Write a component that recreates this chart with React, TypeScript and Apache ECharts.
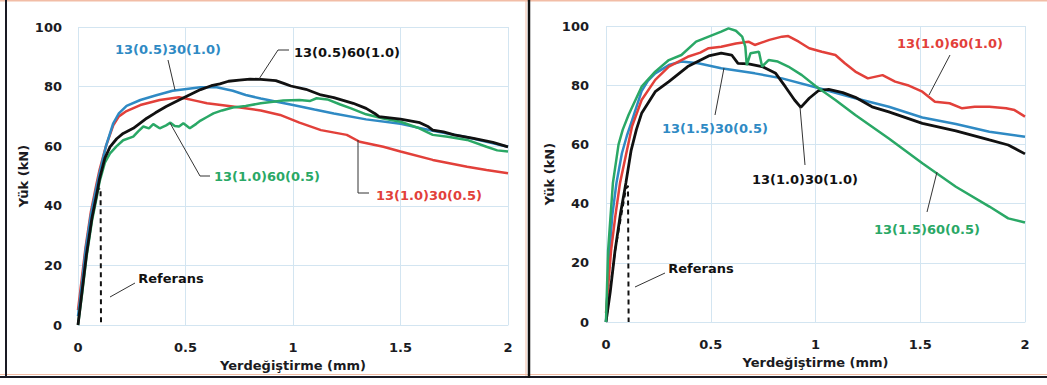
import React, { useEffect, useRef } from "react";
import * as echarts from "echarts";

// ---------- Data (x: Yerdeğiştirme mm, y: Yük kN) ----------
const xTicks = [0, 0.5, 1, 1.5, 2];
const yTicks = [0, 20, 40, 60, 80, 100];

const leftBlue: number[][] = [[0,3],[0.02,15],[0.035,25],[0.06,37],[0.085,46],[0.1,51],[0.13,60],[0.164,67.7],[0.19,71],[0.226,73.5],[0.29,75.5],[0.36,77],[0.44,78.6],[0.57,79.8],[0.645,79.8],[0.72,78.6],[0.78,77.2],[0.85,76],[0.93,74.8],[1.0,73.8],[1.1,72.3],[1.19,71],[1.34,69],[1.5,67.5],[1.65,65.2],[1.81,63],[1.9,61.5],[2.0,59.8]];
const leftRed: number[][] = [[0,5],[0.02,17],[0.035,26],[0.06,38],[0.085,47],[0.1,52],[0.13,60],[0.164,67],[0.19,70],[0.226,71.8],[0.29,73.8],[0.38,75.5],[0.47,76.4],[0.5,76],[0.55,75.2],[0.6,74.4],[0.72,73.3],[0.85,72],[0.94,70.5],[1.03,67.9],[1.13,65.4],[1.25,63.8],[1.31,61.5],[1.42,59.8],[1.5,58.2],[1.65,55.4],[1.81,53.1],[1.9,52],[2.0,50.9]];
const leftBlack: number[][] = [[0,0],[0.02,12],[0.04,24],[0.065,36],[0.09,45],[0.1,49],[0.125,56],[0.149,59.8],[0.18,62.5],[0.21,64.3],[0.257,66],[0.32,69.4],[0.36,71.2],[0.41,73.3],[0.47,75.5],[0.52,77.3],[0.57,79],[0.62,80.3],[0.66,80.9],[0.7,81.8],[0.75,82.2],[0.8,82.5],[0.85,82.4],[0.92,82],[0.96,81],[0.99,80.2],[1.06,79.1],[1.13,77.2],[1.19,76.3],[1.28,74.4],[1.34,72.7],[1.38,71],[1.4,69.9],[1.45,69.5],[1.5,69.1],[1.59,67.9],[1.63,66.5],[1.65,65.4],[1.7,64.8],[1.75,63.8],[1.84,62.6],[1.93,61.3],[2.0,59.8]];
const leftGreen: number[][] = [[0,0],[0.02,11],[0.04,23],[0.065,35],[0.09,44],[0.1,48],[0.125,54.5],[0.149,57.6],[0.18,60],[0.21,62],[0.257,63.2],[0.28,65],[0.304,66.6],[0.33,66],[0.35,67.4],[0.38,66],[0.41,67],[0.43,67.9],[0.45,66.8],[0.47,66.6],[0.49,67.7],[0.52,66],[0.55,67.5],[0.57,68.6],[0.6,69.8],[0.63,71],[0.67,72],[0.72,73],[0.78,73.5],[0.85,74.4],[0.955,75.3],[1.03,75.5],[1.08,75.2],[1.11,76.1],[1.16,75.7],[1.22,74],[1.27,72.7],[1.34,70.7],[1.42,69.3],[1.5,68.2],[1.58,66.2],[1.65,63.8],[1.72,63.2],[1.81,62.1],[1.9,59.8],[1.95,58.6],[2.0,58.2]];
const leftRef: number[][] = [[0,0],[0.035,24],[0.085,45],[0.105,46],[0.107,0]];

const rightBlue: number[][] = [[0,0],[0.015,22],[0.03,36],[0.05,47],[0.076,57],[0.1,63],[0.124,68],[0.17,78],[0.2,81.5],[0.235,84],[0.3,86.8],[0.36,88],[0.44,87.4],[0.55,85.7],[0.71,84],[0.84,82.3],[1.0,79.3],[1.19,75.6],[1.35,72.7],[1.51,69.1],[1.67,66.9],[1.83,64.3],[2.0,62.6]];
const rightGreen: number[][] = [[0,0],[0.01,24],[0.033,47],[0.06,60],[0.08,65],[0.108,70],[0.17,79.5],[0.235,84.6],[0.3,88.5],[0.36,90.2],[0.43,94.7],[0.49,96.4],[0.55,98.1],[0.585,99.2],[0.62,98.4],[0.65,96.4],[0.665,93],[0.672,86.8],[0.69,90.8],[0.73,91.3],[0.745,86.3],[0.776,88.5],[0.82,88],[0.87,86.3],[0.935,83.4],[1.0,79.7],[1.095,75],[1.19,69.9],[1.35,62],[1.51,53.6],[1.67,45.7],[1.83,39],[1.92,35],[2.0,33.6]];
const rightRed: number[][] = [[0,3],[0.024,24],[0.045,36],[0.067,47],[0.1,58],[0.124,66],[0.17,75],[0.235,81.8],[0.3,86.3],[0.39,89.6],[0.45,91],[0.49,92.5],[0.55,93],[0.62,94.1],[0.68,94.7],[0.71,93.6],[0.78,95.3],[0.84,96.4],[0.87,96.6],[0.92,94.7],[0.97,92.5],[1.03,91.3],[1.095,90.2],[1.14,87.4],[1.19,84.6],[1.25,82.3],[1.32,83.4],[1.38,81.2],[1.44,80],[1.51,77.8],[1.57,74.4],[1.64,73.9],[1.7,72.2],[1.76,72.7],[1.83,72.7],[1.91,72.2],[1.95,71.6],[2.0,69.4]];
const rightBlack: number[][] = [[0,0],[0.02,10],[0.043,24],[0.07,37],[0.095,47],[0.12,58],[0.145,65],[0.17,70.5],[0.235,77.8],[0.3,81.2],[0.39,86.3],[0.49,89.9],[0.55,90.8],[0.6,90.2],[0.63,87.4],[0.68,87.2],[0.745,86.3],[0.81,84],[0.856,79.5],[0.9,75],[0.93,72.5],[0.97,75.6],[1.015,78.2],[1.063,78.6],[1.13,77.5],[1.19,75.9],[1.27,72.7],[1.35,71],[1.51,67.1],[1.67,64.6],[1.83,61.5],[1.92,59.8],[2.0,56.8]];
const rightRef: number[][] = [[0,0],[0.043,24],[0.095,45],[0.105,46],[0.108,0]];

const xTitle = "Yerdeğiştirme (mm)";
const yTitle = "Yük (kN)";

const BLUE = "#2f8ac4";
const RED = "#e2403a";
const GREEN = "#2aa866";
const BLACK = "#111111";
const GRID = "#d3e5f1";
const FONT = "DejaVu Sans";

export default function App() {
  const ref = useRef<HTMLDivElement>(null);
  useEffect(() => {
    document.body.style.margin = "0";
    const chart = echarts.init(ref.current!, null, { renderer: "svg" });

    const mkX = (gridIndex: number) => ({
      type: "value", gridIndex, min: 0, max: 2, interval: 0.5,
      axisLine: { show: true, lineStyle: { color: GRID } },
      axisTick: { show: false },
      splitLine: { show: true, lineStyle: { color: GRID, width: 1 } },
      axisLabel: { color: "#1b1b22", fontFamily: FONT, fontWeight: "bold", fontSize: 13, margin: 16,
        formatter: (v: number) => (xTicks.includes(v) ? String(v) : "") },
      name: xTitle, nameLocation: "middle", nameGap: 33,
      nameTextStyle: { color: "#1b1b22", fontFamily: FONT, fontWeight: "bold", fontSize: 13 },
    });
    const mkY = (gridIndex: number, gap: number) => ({
      type: "value", gridIndex, min: 0, max: 100, interval: 20,
      axisLine: { show: false },
      axisTick: { show: false },
      splitLine: { show: true, lineStyle: { color: GRID, width: 1 } },
      axisLabel: { color: "#1b1b22", fontFamily: FONT, fontWeight: "bold", fontSize: 13, margin: gap,
        formatter: (v: number) => (yTicks.includes(v) ? String(v) : "") },
      name: yTitle, nameLocation: "middle", nameGap: gap === 16 ? 48 : 50,
      nameTextStyle: { color: "#1b1b22", fontFamily: FONT, fontWeight: "bold", fontSize: 13 },
    });
    const line = (data: number[][], color: string, idx: number, width = 2.5, dashed = false) => ({
      type: "line", data, xAxisIndex: idx, yAxisIndex: idx, showSymbol: false, symbol: "none",
      lineStyle: { color, width, type: dashed ? [5, 4] : "solid" }, silent: true,
    });

    const txt = (x: number, y: number, text: string, color: string) => ({
      type: "text", x, y, z: 100,
      style: { text, fill: color, font: `bold 13px "${FONT}"`, align: "center", verticalAlign: "middle" },
    });
    const lead = (points: number[][]) => ({
      type: "polyline", z: 99, shape: { points }, style: { stroke: "#333", lineWidth: 1, fill: null },
    });

    const graphic = [
      // frame
      { type: "line", shape: { x1: 0, y1: 0.5, x2: 1047, y2: 0.5 }, style: { stroke: "#f2bda6", lineWidth: 2 } },
      { type: "line", shape: { x1: 0, y1: 374.5, x2: 1047, y2: 374.5 }, style: { stroke: "#f2bda6", lineWidth: 1 } },
      { type: "line", shape: { x1: 0, y1: 377, x2: 1047, y2: 377 }, style: { stroke: "#1a1a24", lineWidth: 2 } },
      { type: "line", shape: { x1: 6, y1: 0, x2: 6, y2: 378 }, style: { stroke: "#1a1a24", lineWidth: 2 } },
      { type: "line", shape: { x1: 526, y1: 0, x2: 526, y2: 376 }, style: { stroke: "#f2bda6", lineWidth: 1 } },
      { type: "line", shape: { x1: 529, y1: 0, x2: 529, y2: 378 }, style: { stroke: "#111", lineWidth: 2.5 } },
      // left annotations
      lead([[168, 60], [175, 90]]),
      txt(168, 49, "13(0.5)30(1.0)", BLUE),
      lead([[289, 50], [278, 50], [259, 79]]),
      txt(347, 52, "13(0.5)60(1.0)", BLACK),
      lead([[210, 176], [200, 176], [170, 123]]),
      txt(267, 176, "13(1.0)60(0.5)", GREEN),
      lead([[369, 193], [358, 193], [358, 140]]),
      txt(429, 195, "13(1.0)30(0.5)", RED),
      lead([[135, 283], [110, 297]]),
      txt(171, 278, "Referans", BLACK),
      // right annotations
      lead([[950, 55], [929, 95]]),
      txt(950, 43, "13(1.0)60(1.0)", RED),
      lead([[715, 115], [724, 68]]),
      txt(715, 128, "13(1.5)30(0.5)", BLUE),
      lead([[805, 165], [800, 107]]),
      txt(805, 179, "13(1.0)30(1.0)", BLACK),
      lead([[927, 212], [937, 172]]),
      txt(927, 229, "13(1.5)60(0.5)", GREEN),
      lead([[665, 273], [635, 287]]),
      txt(701, 268, "Referans", BLACK),
    ];

    chart.setOption({
      animation: false,
      backgroundColor: "#ffffff",
      grid: [
        { left: 78, top: 27, width: 430, height: 298 },
        { left: 606, top: 26, width: 419, height: 296 },
      ],
      xAxis: [mkX(0), mkX(1)],
      yAxis: [mkY(0, 16), mkY(1, 17)],
      series: [
        line(leftRef, BLACK, 0, 2, true),
        line(leftRed, RED, 0),
        line(leftBlue, BLUE, 0),
        line(leftGreen, GREEN, 0),
        line(leftBlack, BLACK, 0, 2.8),
        line(rightRef, BLACK, 1, 2, true),
        line(rightBlue, BLUE, 1),
        line(rightRed, RED, 1),
        line(rightBlack, BLACK, 1, 2.8),
        line(rightGreen, GREEN, 1),
      ],
      graphic,
    });
    return () => chart.dispose();
  }, []);
  return <div ref={ref} style={{ position: "absolute", left: 0, top: 0, width: 1047, height: 385 }} />;
}
